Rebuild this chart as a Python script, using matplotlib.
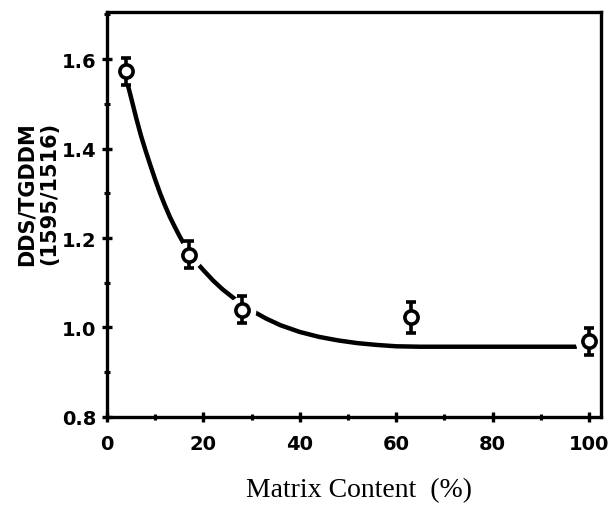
import matplotlib
matplotlib.use('Agg')
import matplotlib.pyplot as plt
from matplotlib.ticker import MultipleLocator

# measured points
matrix = [4, 17, 28, 63, 100]
ratio = [1.573, 1.163, 1.040, 1.023, 0.969]
err = [0.030, 0.030, 0.030, 0.035, 0.030]

# fitted curve
curve_x = [4, 5, 6, 7, 8, 9, 10, 11, 12, 13, 14, 15, 16, 17, 18, 19, 20, 22, 24, 26,
           28, 30, 33, 36, 40, 44, 48, 52, 56, 60, 65, 70, 80, 90, 97.5]
curve_y = [1.555, 1.513, 1.470, 1.430, 1.395, 1.362, 1.330, 1.300, 1.273, 1.248,
           1.226, 1.205, 1.186, 1.170, 1.154, 1.140, 1.128, 1.105, 1.085, 1.068,
           1.052, 1.038, 1.020, 1.005, 0.990, 0.979, 0.971, 0.965, 0.961, 0.958,
           0.957, 0.957, 0.957, 0.957, 0.957]

fig = plt.figure(figsize=(6.12, 5.06), dpi=100)
ax = fig.add_axes([0.175, 0.174, 0.807, 0.800])

ax.plot(curve_x, curve_y, color='black', linewidth=3.2, solid_capstyle='butt', zorder=1)
# white halo so the curve breaks around each marker
ax.plot(matrix, ratio, linestyle='none', marker='o', markersize=19,
        markerfacecolor='white', markeredgecolor='white', zorder=2)
ax.errorbar(matrix, ratio, yerr=err, fmt='o', color='black', markersize=9.5,
            markerfacecolor='white', markeredgewidth=2.6, elinewidth=2.6,
            capsize=3.5, capthick=2.6, zorder=3)

ax.set_xlim(0, 102.5)
ax.set_ylim(0.8, 1.705)
ax.xaxis.set_major_locator(MultipleLocator(20))
ax.xaxis.set_minor_locator(MultipleLocator(10))
ax.yaxis.set_minor_locator(MultipleLocator(0.1))
ax.set_yticks([0.8, 1.0, 1.2, 1.4, 1.6])
ax.set_yticklabels(['0.8', '1.0', '1.2', '1.4', '1.6'])

for s in ax.spines.values():
    s.set_linewidth(2.4)
ax.tick_params(which='major', direction='inout', length=7, width=2.4)
ax.tick_params(which='minor', direction='inout', length=5, width=2.2)
ax.tick_params(axis='both', labelsize=14)
ax.tick_params(axis='x', pad=9)
ax.tick_params(axis='y', pad=4)
for lab in ax.get_xticklabels() + ax.get_yticklabels():
    lab.set_fontweight('bold')

ax.set_xlabel('Matrix Content  (%)', family='Liberation Serif', fontsize=20)
ax.xaxis.set_label_coords(0.51, -0.148)
fig.text(0.044, 0.759, 'DDS/TGDDM', rotation=90, fontsize=15, fontweight='bold',
         ha='center', va='top')
fig.text(0.081, 0.759, '(1595/1516)', rotation=90, fontsize=15, fontweight='bold',
         ha='center', va='top')

fig.savefig('out.png', dpi=100)
